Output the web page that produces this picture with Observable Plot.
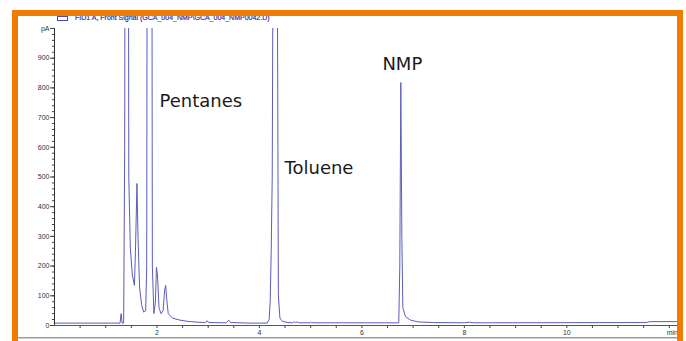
<!DOCTYPE html>
<html>
<head>
<meta charset="utf-8">
<script src="https://cdn.jsdelivr.net/npm/d3@7"></script>
<script src="https://cdn.jsdelivr.net/npm/@observablehq/plot@0.6"></script>
<style>
  html, body { margin: 0; padding: 0; background: #fff; }
  #wrap { position: relative; width: 686px; height: 341px; overflow: hidden; background: #fff; }
  #chart { position: absolute; left: 0; top: 0; }
  #border { position: absolute; left: 12px; top: 10px; width: 659px; height: 335px; border: 6px solid #EF7B00; pointer-events: none; z-index: 3; }
  #sep { position: absolute; left: 18px; top: 337px; width: 659px; height: 1px; background: #9a9a9a; border-bottom: 1px solid #d0d0d0; z-index: 2; }
  #title { position: absolute; left: 57px; top: 14px; font: 7px "Liberation Sans", Arial, sans-serif; color: #3030a0; white-space: nowrap; z-index: 2; -webkit-text-stroke: 0.2px #3030a0; }
  #title .box { display: inline-block; width: 9px; height: 3px; border: 1px solid #4a4ab0; vertical-align: middle; margin-right: 7px; }
</style>
</head>
<body>
<div id="wrap">
  <div id="chart"></div>
  <div id="title"><span class="box"></span>FID1 A, Front Signal (GCA_004_NMP\GCA_004_NMP0042.D)</div>
  <div id="sep"></div>
  <div id="border"></div>
</div>
<script>
// Retention time (min) and detector signal (pA)
const time = [0, 1.28, 1.30, 1.32, 1.35, 1.37, 1.39, 1.43, 1.45, 1.48, 1.52, 1.56, 1.58, 1.61, 1.63, 1.66, 1.70, 1.74, 1.78, 1.80, 1.82, 1.89, 1.91, 1.94, 1.97, 1.99, 2.01, 2.04, 2.08, 2.12, 2.15, 2.17, 2.19, 2.22, 2.30, 2.45, 2.60, 2.80, 2.95, 2.98, 3.01, 3.35, 3.40, 3.44, 3.80, 4.15, 4.19, 4.21, 4.23, 4.25, 4.27, 4.30, 4.33, 4.35, 4.37, 4.40, 4.45, 4.55, 4.65, 4.68, 4.71, 4.74, 4.77, 5.00, 5.02, 5.05, 6.72, 6.74, 6.76, 6.78, 6.80, 6.85, 6.95, 7.10, 7.40, 8.00, 8.10, 8.20, 11.55, 11.62, 12.20];
const signal = [8, 8, 40, 8, 8, 600, 3000, 3000, 500, 260, 170, 135, 250, 478, 300, 130, 70, 45, 50, 200, 3000, 3000, 200, 40, 80, 196, 170, 60, 40, 50, 120, 135, 90, 40, 25, 18, 14, 11, 10, 16, 10, 9, 18, 10, 8, 8, 20, 80, 250, 500, 1500, 3000, 3000, 1200, 100, 25, 14, 10, 9, 13, 9, 13, 9, 9, 11, 9, 9, 200, 818, 300, 60, 30, 18, 12, 10, 9, 11, 9, 10, 13, 13];

// Peak annotations
const peakNames = ["Pentanes", "Toluene", "NMP"];
const peakTimes = [2.05, 4.49, 6.40];
const peakLevels = [754, 529, 879];

// Axis ticks
const yTicks = [0, 100, 200, 300, 400, 500, 600, 700, 800, 900, 1000];
const yTickLabels = ["0", "100", "200", "300", "400", "500", "600", "700", "800", "900", "pA"];
const xTicks = [2, 4, 6, 8, 10, 12.06];
const xTickLabels = ["2", "4", "6", "8", "10", "min"];

const trace = time.map((t, i) => ({t, v: signal[i]}));
const peaks = peakNames.map((name, i) => ({name, t: peakTimes[i], v: peakLevels[i]}));
const yMinor = d3.range(0, 1001, 20);
const xMinor = d3.range(0.5, 12.01, 0.5);

const plot = Plot.plot({
  width: 686,
  height: 341,
  marginLeft: 54,
  marginRight: 8,
  marginTop: 28,
  marginBottom: 16,
  style: {fontFamily: "'Liberation Sans', Arial, sans-serif", fontSize: "7px", color: "#333", background: "#fff"},
  x: {domain: [0, 12.18], label: null},
  y: {domain: [0, 1000], label: null},
  marks: [
    Plot.axisY(yMinor, {tickSize: 2, text: null, stroke: "#444", label: null}),
    Plot.axisY(yTicks, {tickSize: 4, tickPadding: 1, tickFormat: (d) => yTickLabels[yTicks.indexOf(d)], stroke: "#444", fill: "#333", label: null}),
    Plot.axisX(xMinor, {tickSize: 3, text: null, stroke: "#444", label: null}),
    Plot.axisX(xTicks, {tickSize: 0, tickPadding: 5, tickFormat: d => xTickLabels[xTicks.indexOf(d)], fill: "#333", label: null}),
    Plot.line(trace, {x: "t", y: "v", stroke: "#5c5cbc", strokeWidth: 1, clip: true}),
    Plot.ruleX([0], {stroke: "#333"}),
    Plot.ruleY([0], {stroke: "#555"}),
    Plot.text(peaks, {x: "t", y: "v", text: "name", textAnchor: "start", lineAnchor: "middle", fontSize: 18, fontFamily: "'DejaVu Sans', Verdana, sans-serif", fill: "#1a1a1a"})
  ]
});
document.getElementById("chart").appendChild(plot);
</script>
</body>
</html>
